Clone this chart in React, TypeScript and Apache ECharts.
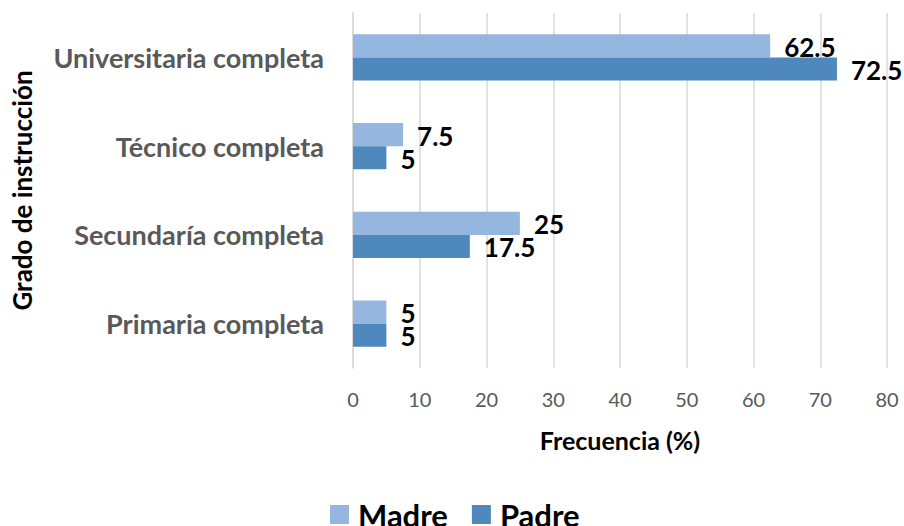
import React, { useEffect, useRef } from "react";
import * as echarts from "echarts";

const categories = ["Primaria completa", "Secundaría completa", "Técnico completa", "Universitaria completa"];
const madre = [5, 25, 7.5, 62.5];
const padre = [5, 17.5, 5, 72.5];
const xTicks = [0, 10, 20, 30, 40, 50, 60, 70, 80];

const FONT = "Lato";

export default function App() {
  const ref = useRef<HTMLDivElement>(null);
  useEffect(() => {
    if (!ref.current) return;
    const chart = echarts.init(ref.current, null, { renderer: "svg" });
    const label = {
      show: true,
      position: "right" as const,
      distance: 14,
      offset: [0, 1],
      color: "#000",
      fontWeight: "bold" as const,
      fontSize: 26,
      fontFamily: FONT,
    };
    chart.setOption({
      animation: false,
      textStyle: { fontFamily: FONT },
      grid: { left: 353, right: 17, top: 13, bottom: 158, containLabel: false },
      legend: {
        top: 494,
        left: 460 - 135,
        itemWidth: 19,
        itemHeight: 19,
        itemGap: 24,
        icon: "rect",
        textStyle: { fontSize: 31, fontWeight: "bold", color: "#000", fontFamily: FONT, padding: [0, 0, 0, 4] },
        data: ["Madre", "Padre"],
      },
      xAxis: {
        type: "value",
        min: xTicks[0],
        max: xTicks[xTicks.length - 1],
        interval: 10,
        name: "Frecuencia (%)",
        nameLocation: "middle",
        nameGap: 59,
        nameTextStyle: { fontSize: 25, fontWeight: "bold", color: "#000", fontFamily: FONT },
        axisLine: { show: false },
        axisTick: { show: false },
        axisLabel: { fontSize: 20, color: "#595959", margin: 21, fontFamily: FONT },
        splitLine: { show: true, lineStyle: { color: "#D9D9D9", width: 1.5 } },
      },
      yAxis: {
        type: "category",
        data: categories,
        name: "Grado de instrucción",
        nameLocation: "middle",
        nameGap: 318,
        nameRotate: 90,
        nameTextStyle: { fontSize: 26, fontWeight: "bold", color: "#000", fontFamily: FONT },
        axisLine: { show: true, lineStyle: { color: "#D9D9D9", width: 1.5 } },
        axisTick: { show: false },
        axisLabel: { fontSize: 27, fontWeight: "bold", color: "#595959", margin: 29, fontFamily: FONT },
      },
      series: [
        {
          name: "Madre",
          type: "bar",
          data: madre,
          itemStyle: { color: "#95B7DF" },
          barGap: "0%",
          barCategoryGap: "48%",
          label,
        },
        {
          name: "Padre",
          type: "bar",
          data: padre,
          itemStyle: { color: "#4F88BD" },
          barGap: "0%",
          barCategoryGap: "48%",
          label,
        },
      ],
    });
    return () => chart.dispose();
  }, []);
  return <div ref={ref} style={{ width: 904, height: 526, position: "absolute", left: 0, top: 0 }} />;
}
